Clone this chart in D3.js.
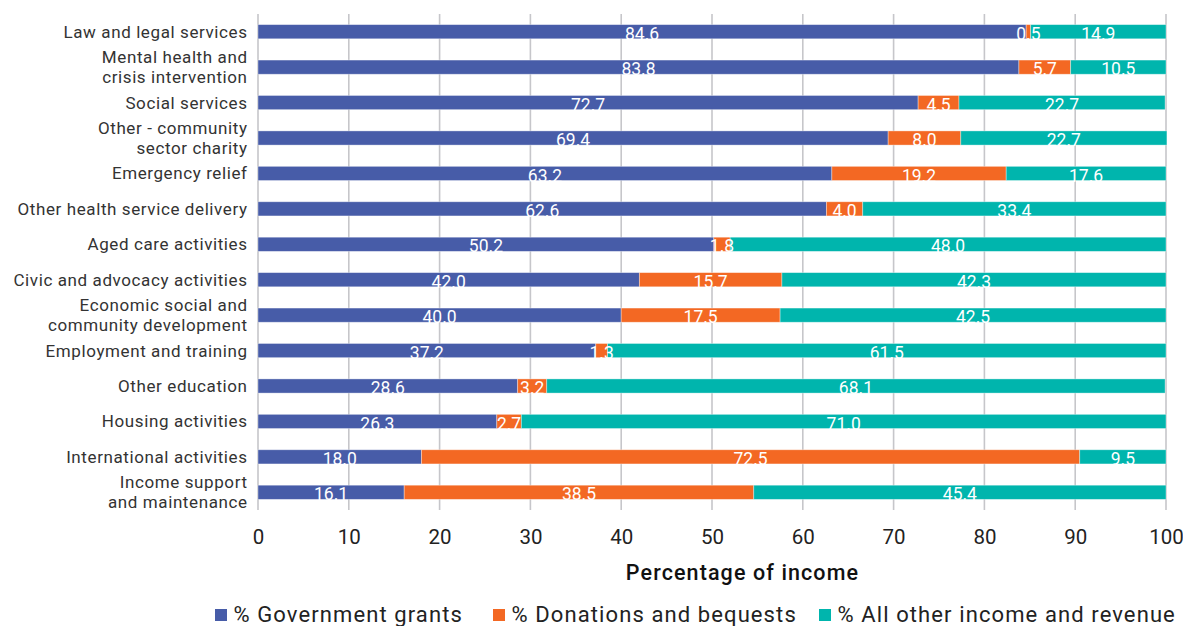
<!DOCTYPE html>
<html>
<head>
<meta charset="utf-8">
<script src="https://cdn.jsdelivr.net/npm/d3@7"></script>
<style>
  html, body { margin: 0; padding: 0; background: #fff; }
  svg { display: block; font-family: "Roboto", "DejaVu Sans", sans-serif; }
</style>
</head>
<body>
<svg id="chart" width="1183" height="626"></svg>
<script>
// Activity types (top to bottom); "\n" splits a label over two lines
const categories = [
  "Law and legal services",
  "Mental health and\ncrisis intervention",
  "Social services",
  "Other - community\nsector charity",
  "Emergency relief",
  "Other health service delivery",
  "Aged care activities",
  "Civic and advocacy activities",
  "Economic social and\ncommunity development",
  "Employment and training",
  "Other education",
  "Housing activities",
  "International activities",
  "Income support\nand maintenance"
];

const governmentGrants = [84.6, 83.8, 72.7, 69.4, 63.2, 62.6, 50.2, 42.0, 40.0, 37.2, 28.6, 26.3, 18.0, 16.1];
const donationsBequests = [0.5, 5.7, 4.5, 8.0, 19.2, 4.0, 1.8, 15.7, 17.5, 1.3, 3.2, 2.7, 72.5, 38.5];
const otherIncome = [14.9, 10.5, 22.7, 22.7, 17.6, 33.4, 48.0, 42.3, 42.5, 61.5, 68.1, 71.0, 9.5, 45.4];

const seriesNames = ["% Government grants", "% Donations and bequests", "% All other income and revenue"];
const seriesColors = ["#475CA8", "#F36823", "#00B5AD"];
const xTicks = [0, 10, 20, 30, 40, 50, 60, 70, 80, 90, 100];
const xTitle = "Percentage of income";

const rows = categories.map((c, i) => ({
  category: c,
  s0: governmentGrants[i],
  s1: donationsBequests[i],
  s2: otherIncome[i]
}));

const svg = d3.select("#chart");
const margin = { left: 258, right: 17, top: 14, bottom: 116 };
const width = 1183, height = 626;

const x = d3.scaleLinear().domain([0, 100]).range([margin.left, width - margin.right]);
const y = d3.scaleBand().domain(categories).range([margin.top, height - margin.bottom])
  .paddingInner(0.6).paddingOuter(0.3);

// vertical gridlines (including the 0 baseline)
svg.append("g")
  .selectAll("line")
  .data(xTicks)
  .join("line")
  .attr("x1", d => x(d)).attr("x2", d => x(d))
  .attr("y1", margin.top).attr("y2", height - margin.bottom)
  .attr("stroke", "#c6c6ca")
  .attr("stroke-width", 1.6);

// stacked segments
const stack = d3.stack().keys(["s0", "s1", "s2"]);
const layers = stack(rows);

svg.append("g")
  .selectAll("g")
  .data(layers)
  .join("g")
  .attr("fill", (d, i) => seriesColors[i])
  .selectAll("rect")
  .data(d => d)
  .join("rect")
  .attr("x", d => x(d[0]))
  .attr("width", d => x(d[1]) - x(d[0]))
  .attr("y", d => y(d.data.category))
  .attr("height", y.bandwidth())
  .attr("stroke", "#ffffff")
  .attr("stroke-opacity", 0.45)
  .attr("stroke-width", 0.8);

// value labels centred in each segment, drawn above every bar
const labelData = layers.flatMap(layer => layer.map(seg => ({ seg, key: layer.key })));
svg.append("g")
  .selectAll("text")
  .data(labelData)
  .join("text")
  .attr("x", d => (x(d.seg[0]) + x(d.seg[1])) / 2)
  .attr("y", d => y(d.seg.data.category) + y.bandwidth() + 1)
  .attr("text-anchor", "middle")
  .attr("fill", "#ffffff")
  .attr("font-size", 17.5)
  .text(d => d.seg.data[d.key].toFixed(1));

// category labels
const catSpacing = 0.6;
const catG = svg.append("g")
  .selectAll("text")
  .data(categories)
  .join("text")
  .attr("text-anchor", "end")
  .attr("fill", "#333333")
  .attr("font-size", 17)
  .attr("letter-spacing", catSpacing);

catG.each(function (c) {
  const lines = c.split("\n");
  const cy = y(c) + y.bandwidth() / 2;
  const lh = 20;
  const t = d3.select(this);
  lines.forEach((ln, k) => {
    t.append("tspan")
      .attr("x", 247 + catSpacing)
      .attr("y", cy + 6 + (k - (lines.length - 1) / 2) * lh)
      .text(ln);
  });
});

// x axis tick labels
const xAxis = d3.axisBottom(x).tickValues(xTicks).tickSize(0).tickPadding(0).tickFormat(d3.format("d"));
const axG = svg.append("g")
  .attr("transform", `translate(0, ${height - margin.bottom})`)
  .call(xAxis);
axG.select(".domain").remove();
axG.selectAll("text")
  .attr("font-size", 20.5)
  .attr("fill", "#222222")
  .attr("font-family", "Roboto, DejaVu Sans, sans-serif")
  .attr("dy", 0)
  .attr("y", 34);

// axis title
svg.append("text")
  .attr("x", 742.5)
  .attr("y", 580)
  .attr("text-anchor", "middle")
  .attr("font-size", 21.5)
  .attr("font-weight", 500)
  .attr("letter-spacing", 1.1)
  .attr("fill", "#111111")
  .text(xTitle);

// legend
const legendX = [215, 493, 819];
const leg = svg.append("g")
  .selectAll("g")
  .data(seriesNames)
  .join("g")
  .attr("transform", (d, i) => `translate(${legendX[i]}, 615)`);
leg.append("rect")
  .attr("x", 0).attr("y", -6)
  .attr("width", 12).attr("height", 12)
  .attr("fill", (d, i) => seriesColors[i]);
leg.append("text")
  .attr("x", 18.5).attr("y", 6.5)
  .attr("font-size", 22)
  .attr("letter-spacing", 1.1)
  .attr("fill", "#222222")
  .text(d => d);
</script>
</body>
</html>
